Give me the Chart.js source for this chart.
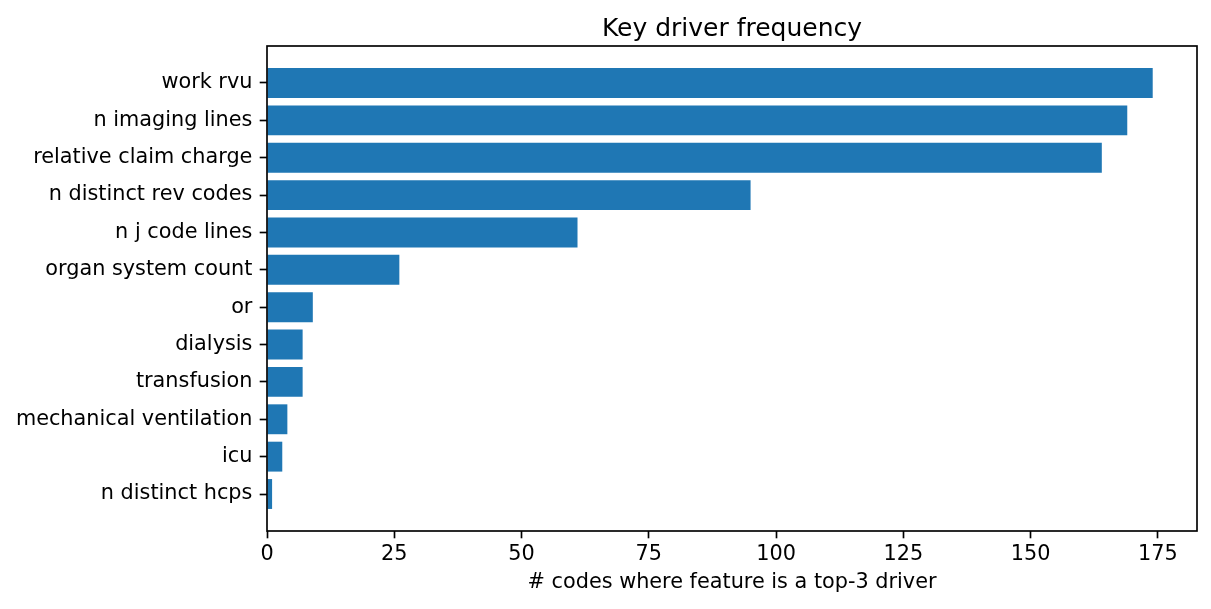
<!DOCTYPE html>
<html>
<head>
<meta charset="utf-8">
<script src="https://cdn.jsdelivr.net/npm/chart.js@4/dist/chart.umd.min.js"></script>
<style>
  html, body { margin: 0; padding: 0; background: #fff; }
  #wrap { width: 1211px; height: 609px; }
</style>
</head>
<body>
<div id="wrap"><canvas id="c" width="1211" height="609"></canvas></div>
<script>
const features = [
  "work rvu", "n imaging lines", "relative claim charge", "n distinct rev codes",
  "n j code lines", "organ system count", "or", "dialysis", "transfusion",
  "mechanical ventilation", "icu", "n distinct hcps"
];
const counts = [174, 169, 164, 95, 61, 26, 9, 7, 7, 4, 3, 1];
const xTicks = [0, 25, 50, 75, 100, 125, 150, 175];

const FONT = "'DejaVu Sans', sans-serif";
const TICK = 20.8;
const xMax = Math.max(...counts) * 1.05;
const n = features.length;
const yPad = (n - 1 + 0.8) * 0.05 + 0.4;

const spines = {
  id: 'spines',
  afterDraw(chart) {
    const { ctx, chartArea: a } = chart;
    ctx.save();
    ctx.strokeStyle = '#000';
    ctx.lineWidth = 1.67;
    ctx.strokeRect(a.left, a.top, a.right - a.left, a.bottom - a.top);
    ctx.restore();
  }
};

new Chart(document.getElementById('c'), {
  type: 'bar',
  data: {
    datasets: [{
      data: counts.map((v, i) => ({ x: v, y: i })),
      backgroundColor: '#1f77b4',
      borderWidth: 0,
      categoryPercentage: 0.8,
      barPercentage: 1.0
    }]
  },
  options: {
    indexAxis: 'y',
    responsive: false,
    animation: false,
    devicePixelRatio: 1,
    layout: { padding: { left: 15, right: 14, top: 0, bottom: 0 } },
    plugins: {
      legend: { display: false },
      tooltip: { enabled: false },
      title: {
        display: true,
        text: 'Key driver frequency',
        fullSize: false,
        color: '#000',
        font: { family: FONT, size: 25, weight: 'normal' },
        padding: { top: 14, bottom: 2 }
      }
    },
    scales: {
      x: {
        type: 'linear',
        position: 'bottom',
        min: 0,
        max: xMax,
        afterBuildTicks: s => { s.ticks = xTicks.map(v => ({ value: v })); },
        afterFit: s => { s.height = 78; },
        grid: { drawOnChartArea: false, drawTicks: true, tickLength: 7.3, tickWidth: 1.67, tickColor: '#000' },
        border: { display: false },
        ticks: { color: '#000', font: { family: FONT, size: TICK }, padding: 4, maxRotation: 0 },
        title: {
          display: true,
          text: '# codes where feature is a top-3 driver',
          color: '#000',
          font: { family: FONT, size: TICK },
          padding: { top: 3, bottom: 13.7 }
        }
      },
      y: {
        type: 'linear',
        reverse: true,
        offset: false,
        min: -yPad,
        max: n - 1 + yPad,
        afterBuildTicks: s => { s.ticks = features.map((_, i) => ({ value: i })); },
        afterFit: s => { s.width = 252; },
        grid: { offset: false, drawOnChartArea: false, drawTicks: true, tickLength: 7.3, tickWidth: 1.67, tickColor: '#000' },
        border: { display: false },
        ticks: {
          color: '#000',
          font: { family: FONT, size: TICK },
          padding: 7.3,
          autoSkip: false,
          callback: v => features[v]
        }
      }
    }
  },
  plugins: [spines]
});
</script>
</body>
</html>
